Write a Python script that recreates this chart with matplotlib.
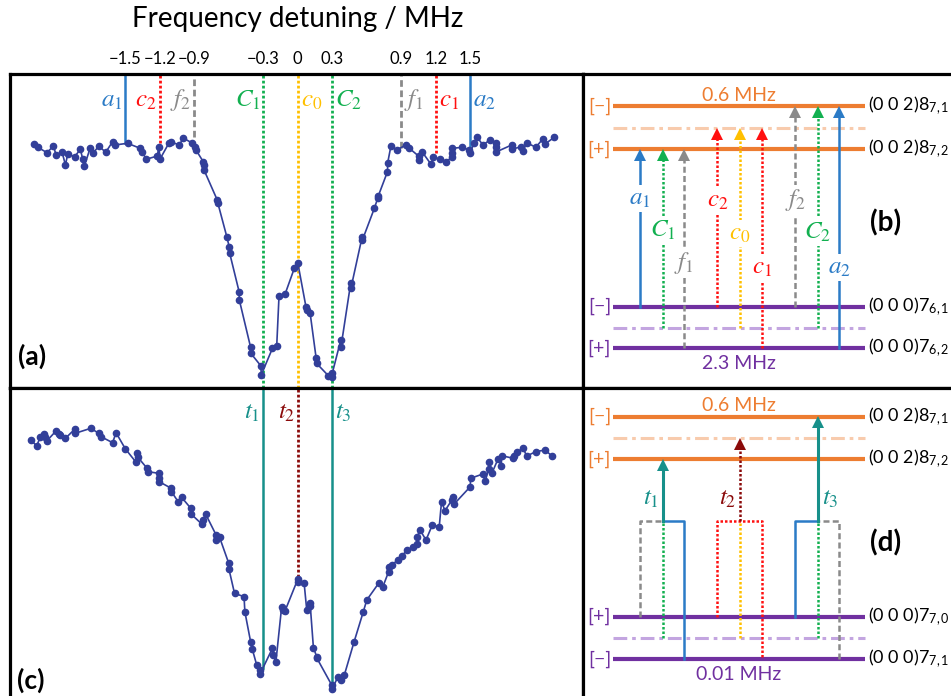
import numpy as np
import matplotlib.pyplot as plt

plt.rcParams['font.family'] = ['Lato', 'DejaVu Sans']
plt.rcParams['mathtext.fontset'] = 'custom'
plt.rcParams['mathtext.rm'] = 'Lato'
plt.rcParams['mathtext.it'] = 'Lato:italic'
plt.rcParams['mathtext.bf'] = 'Lato:bold'

# ---- spectrum (a): detuning in MHz, signal in arb. units
freq_a = [-2.29, -2.26, -2.18, -2.125, -2.10, -2.05, -2.02, -2.00, -1.94, -1.89, -1.87, -1.855,
          -1.806, -1.78, -1.73, -1.67, -1.61, -1.59, -1.48, -1.37, -1.35, -1.32, -1.22, -1.21,
          -1.195, -1.12, -1.10, -1.03, -0.995, -0.92, -0.89, -0.885, -0.82, -0.818, -0.815,
          -0.70, -0.695, -0.617, -0.595, -0.593, -0.51, -0.508, -0.41, -0.408, -0.32, -0.318,
          -0.22, -0.183, -0.163, -0.11, -0.03, 0.0, 0.072, 0.078, 0.107, 0.16, 0.163, 0.266,
          0.295, 0.30, 0.374, 0.376, 0.46, 0.462, 0.56, 0.562, 0.666, 0.695, 0.70, 0.78, 0.782,
          0.81, 0.86, 0.94, 0.97, 1.05, 1.052, 1.08, 1.157, 1.18, 1.24, 1.29, 1.34, 1.342, 1.345,
          1.43, 1.49, 1.50, 1.53, 1.56, 1.61, 1.67, 1.72, 1.722, 1.724, 1.86, 1.862, 1.94, 1.96,
          1.99, 2.07, 2.13, 2.15, 2.23]
sig_a = [244, 240.7, 235.3, 242, 232.7, 236.3, 223, 234, 231.3, 238.7, 229, 222,
         239.7, 234.7, 242, 235.7, 246.3, 243, 244.7, 239.7, 236.3, 228.7, 232, 241,
         229.5, 245, 246, 243, 250, 245, 241, 238, 226, 223, 218,
         188, 185, 151.3, 140.7, 135.3, 96.3, 88, 40.7, 34.7, 22, 13,
         39.7, 42, 92, 94, 119.7, 125.3, 80.7, 78, 75.3, 29.7, 24.7, 12.3,
         11.3, 14.7, 48, 41.3, 104.7, 99.7, 151.3, 148, 179.7, 189.7, 192, 216.3, 225.3,
         242, 238, 243, 239.7, 232, 228, 236.3, 224, 230.7, 228.7, 225.7, 231.3, 235.3, 239.7,
         240.7, 238, 234.7, 244.7, 250.7, 243, 248, 244.7, 240.7, 236, 243, 238.7, 241.3, 237.3,
         245.3, 240.7, 249, 244, 250.7]

# ---- spectrum (c)
freq_c = [-2.32, -2.27, -2.24, -2.21, -2.20, -2.18, -2.10, -2.08, -2.07, -2.02, -1.94, -1.935,
          -1.80, -1.73, -1.71, -1.61, -1.58, -1.50, -1.41, -1.40, -1.39, -1.31, -1.30, -1.21,
          -1.208, -1.205, -1.10, -1.098, -1.04, -1.01, -0.93, -0.928, -0.835, -0.82, -0.80,
          -0.71, -0.708, -0.68, -0.60, -0.598, -0.55, -0.467, -0.46, -0.41, -0.395, -0.357,
          -0.33, -0.328, -0.22, -0.218, -0.19, -0.14, -0.125, -0.11, 0.0, 0.002, 0.055, 0.078,
          0.107, 0.109, 0.136, 0.165, 0.167, 0.295, 0.297, 0.35, 0.38, 0.405, 0.49, 0.57, 0.60,
          0.707, 0.74, 0.79, 0.792, 0.817, 0.87, 0.905, 0.95, 1.005, 1.035, 1.037, 1.063, 1.115,
          1.17, 1.23, 1.25, 1.28, 1.34, 1.35, 1.36, 1.50, 1.502, 1.61, 1.63, 1.66, 1.662, 1.69,
          1.74, 1.77, 1.772, 1.875, 1.877, 1.91, 1.96, 1.99, 2.07, 2.15, 2.21]
sig_c = [262, 256, 264.7, 268, 265.3, 261.3, 271.3, 268, 267, 263.7, 272.7, 268.7,
         273.7, 268.7, 265.3, 259.3, 269.3, 253.3, 240.3, 248.7, 244.7, 233.7, 230.3, 228.7,
         223.7, 220.3, 213.7, 210.3, 200.3, 204.7, 193.7, 188, 178, 182, 187.7,
         167, 162, 164.7, 138.7, 132.7, 108.7, 105.3, 90.3, 60.3, 52.7, 37,
         32, 28, 53.7, 47, 40.3, 95.3, 92, 91.3, 122.7, 120.3, 119.3, 92,
         99.3, 96, 54.3, 45.3, 43.7, 17, 12.7, 25.3, 22, 27, 60.3, 90.3, 102,
         119.3, 115.3, 130.3, 135.3, 137, 142, 146, 152, 154.7, 158, 164.7, 172, 162,
         177, 175.3, 200.3, 191.3, 202, 204.7, 198, 215.3, 223.7, 228, 221, 232.7, 239.7, 229.3,
         242.7, 236.3, 246.3, 243.7, 246, 250.3, 253.7, 246, 250.3, 252, 246]

# ---- transition markers on the spectra
ticks_mhz = [-1.5, -1.2, -0.9, -0.3, 0, 0.3, 0.9, 1.2, 1.5]
tick_text = ['\u22121.5', '\u22121.2', '\u22120.9', '\u22120.3', '0', '0.3', '0.9', '1.2', '1.5']
labels_a = ['a_1', 'c_2', 'f_2', 'C_1', 'c_0', 'C_2', 'f_1', 'c_1', 'a_2']
ends_a = [245, 245, 251, 0, 0, 0, 240, 235, 240]
labels_c = ['t_1', 't_2', 't_3']
pos_c = [-0.3, 0, 0.3]
ends_c = [34, 125, 19]

# ---- energy level schematics (px from panel top / px across figure)
levels_b = [32, 54.3, 75, 232.7, 253.7, 274.3]
levels_d = [28.7, 50.3, 71, 228.7, 250.3, 271]
signs_b = ['[\u2212]', '', '[+]', '[\u2212]', '', '[+]']
signs_d = ['[\u2212]', '', '[+]', '[+]', '', '[\u2212]']
states_b = ['(0 0 2)8$_{7,1}$', '', '(0 0 2)8$_{7,2}$', '(0 0 0)7$_{6,1}$', '', '(0 0 0)7$_{6,2}$']
states_d = ['(0 0 2)8$_{7,1}$', '', '(0 0 2)8$_{7,2}$', '(0 0 0)7$_{7,0}$', '', '(0 0 0)7$_{7,1}$']
split_b = ['0.6 MHz', '2.3 MHz']
split_d = ['0.6 MHz', '0.01 MHz']
cols_x = [640, 662.7, 684.3, 717.3, 740, 762.3, 795, 817.7, 839.3]
trans_from = [3, 4, 5, 3, 4, 5, 3, 4, 5]
trans_to = [2, 2, 2, 1, 1, 1, 0, 0, 0]
trans_lab = ['a_1', 'C_1', 'f_1', 'c_2', 'c_0', 'c_1', 'f_2', 'C_2', 'a_2']
trans_lab_y = [124, 156, 189, 126, 159, 193, 126, 158, 193]

blue = '#2B7BC6'
red = '#FF1010'
gray = '#8A8A8A'
green = '#12B050'
gold = '#FFC000'
teal = '#17908A'
darkred = '#8B0A0A'
orange = '#ED7D31'
lorange = '#F8CBAD'
purple = '#7030A0'
lpurple = '#C3A5E0'
navy = '#323F99'
dot = (0, (1, 0.8))
dash = (0, (2.4, 1.3))
dashdot = (0, (4.5, 1.6, 1.2, 1.6))
style = {'a': (blue, '-'), 'c': (red, dot), 'f': (gray, dash), 'C': (green, dot)}


def look(name):
    if name == 'c_0':
        return gold, dot
    return style[name[0]]


W, H = 951, 696
fig = plt.figure(figsize=(9.51, 6.96), dpi=100)
ax_a = fig.add_axes([10 / W, 1 - 388 / H, 573 / W, 314 / H])
ax_c = fig.add_axes([10 / W, 1 - 702 / H, 573 / W, 314 / H])
ax_b = fig.add_axes([583 / W, 1 - 388 / H, 377 / W, 314 / H])
ax_d = fig.add_axes([583 / W, 1 - 702 / H, 377 / W, 314 / H])

for ax in (ax_a, ax_c, ax_b, ax_d):
    for s in ax.spines.values():
        s.set_linewidth(2.3)
    ax.tick_params(length=0)
    ax.set_yticks([])

# ---- spectra
for ax in (ax_a, ax_c):
    ax.set_xlim(-2.502, 2.48)
    ax.set_ylim(0, 314)
ax_c.set_xticks([])
ax_a.xaxis.tick_top()
ax_a.set_xticks(ticks_mhz, tick_text, fontsize=12)
ax_a.tick_params(axis='x', pad=5)
ax_a.text(0, 1.175, 'Frequency detuning / MHz', transform=ax_a.get_xaxis_transform(),
          ha='center', va='center', fontsize=20)

for x, lab, end in zip(ticks_mhz, labels_a, ends_a):
    c, ls = look(lab)
    ax_a.plot([x, x], [end, 314], color=c, ls=ls, lw=2.0 if ls != '-' else 1.8, zorder=1)
    if x < 0:
        ax_a.text(x - 0.025, 288, '$%s$' % lab, color=c, ha='right', va='center',
                  fontsize=18, math_fontfamily='stix')
    else:
        ax_a.text(x + 0.025, 288, '$%s$' % lab, color=c, ha='left', va='center',
                  fontsize=18, math_fontfamily='stix')

for x, lab, end in zip(pos_c, labels_c, ends_c):
    c = darkred if lab == 't_2' else teal
    ax_c.plot([x, x], [end, 314], color=c, ls=dot if lab == 't_2' else '-',
              lw=2.0 if lab == 't_2' else 1.8, zorder=1)
    if x <= 0:
        ax_c.text(x - 0.025, 290, '$%s$' % lab, color=c, ha='right', va='center',
                  fontsize=18, math_fontfamily='stix')
    else:
        ax_c.text(x + 0.025, 290, '$%s$' % lab, color=c, ha='left', va='center',
                  fontsize=18, math_fontfamily='stix')

ax_a.plot(freq_a, sig_a, '-o', color=navy, lw=1.2, ms=4.5, zorder=3)
ax_c.plot(freq_c, sig_c, '-o', color=navy, lw=1.2, ms=4.5, zorder=3)
ax_a.text(0.038, 0.10, '(a)', transform=ax_a.transAxes, ha='center', va='center',
          fontsize=19, fontweight='bold')
ax_c.text(0.036, 0.07, '(c)', transform=ax_c.transAxes, ha='center', va='center',
          fontsize=19, fontweight='bold')


# ---- level diagrams
def draw_levels(ax, ys, signs, states, split):
    ax.set_xlim(583, 960)
    ax.set_ylim(314, 0)
    ax.set_xticks([])
    for i, y in enumerate(ys):
        col = orange if i < 3 else purple
        if i % 3 == 1:
            ax.plot([613, 865], [y, y], color=lorange if i < 3 else lpurple, lw=2.2,
                    ls=dashdot, zorder=1)
            continue
        ax.plot([613, 865], [y, y], color=col, lw=3.0, zorder=1, solid_capstyle='butt')
        ax.text(611, y, signs[i], color=col, ha='right', va='center', fontsize=14)
        ax.text(868, y, states[i], ha='left', va='center', fontsize=13)
    ax.text(739, ys[0] - 11, split[0], color=orange, ha='center', va='center', fontsize=14)
    ax.text(739, ys[5] + 15, split[1], color=purple, ha='center', va='center', fontsize=14)


def arrow(ax, x, y0, y1, c, ls, lw=1.8):
    ax.plot([x, x], [y0, y1 + 10], color=c, ls=ls, lw=lw, zorder=2)
    ax.plot(x, y1 + 5.5, marker='^', ms=8, color=c, mew=0, zorder=3)


draw_levels(ax_b, levels_b, signs_b, states_b, split_b)
draw_levels(ax_d, levels_d, signs_d, states_d, split_d)

for x, f, t, lab, ly in zip(cols_x, trans_from, trans_to, trans_lab, trans_lab_y):
    c, ls = look(lab)
    arrow(ax_b, x, levels_b[f], levels_b[t], c, ls)
    ax_b.text(x, ly, '$%s$' % lab, color=c, ha='center', va='center', fontsize=18,
              math_fontfamily='stix', zorder=4,
              bbox=dict(fc='white', ec='none', pad=1.5))
ax_b.text(886, 149, '(b)', ha='center', va='center', fontsize=20, fontweight='bold')

# (d): combined transitions t1, t2, t3 joined at one height
J = 133
L = levels_d
X = cols_x
paths_d = [
    ([X[0], X[0], X[1]], [L[3], J, J], gray, dash),
    ([X[1], X[1]], [L[4], J], green, dot),
    ([X[2], X[2], X[1]], [L[5], J, J], blue, '-'),
    ([X[3], X[3], X[5], X[5]], [L[3], J, J, L[5]], red, dot),
    ([X[4], X[4]], [L[4], J], gold, dot),
    ([X[6], X[6], X[7]], [L[3], J, J], blue, '-'),
    ([X[7], X[7]], [L[4], J], green, dot),
    ([X[8], X[8], X[7]], [L[5], J, J], gray, dash),
]
for xs, ys, c, ls in paths_d:
    ax_d.plot(xs, ys, color=c, ls=ls, lw=1.8, zorder=2)
arrow(ax_d, X[1], J, L[2], teal, '-', lw=2.2)
arrow(ax_d, X[4], J, L[1], darkred, dot)
arrow(ax_d, X[7], J, L[0], teal, '-', lw=2.2)
ax_d.text(X[1] - 4, 110, '$t_1$', color=teal, ha='right', va='center', fontsize=18,
          math_fontfamily='stix')
ax_d.text(X[4] - 4, 110, '$t_2$', color=darkred, ha='right', va='center', fontsize=18,
          math_fontfamily='stix')
ax_d.text(X[7] + 4, 110, '$t_3$', color=teal, ha='left', va='center', fontsize=18,
          math_fontfamily='stix')
ax_d.text(886, 155, '(d)', ha='center', va='center', fontsize=20, fontweight='bold')

fig.savefig('out.png', dpi=100)
